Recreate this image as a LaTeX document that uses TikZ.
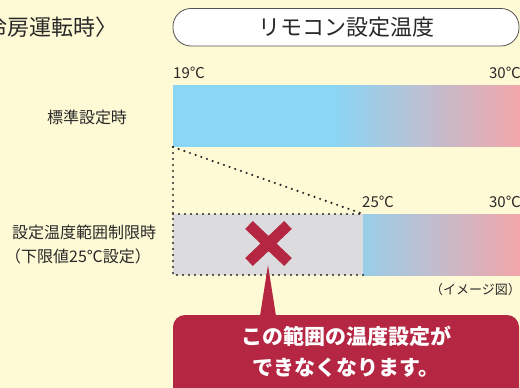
\documentclass[tikz,border=0pt]{standalone}
\usepackage{fontspec}
\setmainfont{Noto Sans CJK JP}
\definecolor{cream}{RGB}{255,250,214}
\definecolor{barblue}{RGB}{137,214,245}
\definecolor{barpink}{RGB}{242,166,170}
\definecolor{boxgrey}{RGB}{220,220,222}
\definecolor{crimson}{RGB}{180,38,66}
\definecolor{textgrey}{RGB}{40,40,40}
% blue part of the full bar, then blue to pink
\pgfdeclarehorizontalshading{fullbar}{100bp}{color(0bp)=(barblue); color(25bp)=(barblue);
  color(48bp)=(barblue); color(75bp)=(barpink); color(100bp)=(barpink)}
\tikzset{
  lbl/.style={text=textgrey, inner sep=0pt, font=\fontsize{16}{20}\selectfont},
  deg/.style={text=textgrey, inner sep=0pt, font=\fontsize{15}{18}\selectfont},
  big/.style={text=textgrey, inner sep=0pt, font=\fontsize{22}{26}\selectfont},
  dots/.style={line width=2.4pt, line cap=round, dash pattern=on 0pt off 6pt, textgrey}
}
\begin{document}
\begin{tikzpicture}[x=1pt,y=-1pt]
\useasboundingbox (0,0) rectangle (520,388);
\fill[cream] (0,0) rectangle (520,388);
% heading
\node [big, anchor=east] (mode) at (118,27) {〈冷房運転時〉};
\draw[fill=white, draw=textgrey!80, line width=0.8pt, rounded corners=18] (173,8.5) rectangle (519,46);
\node [big] (remo) at (346,27) {リモコン設定温度};
% standard bar
\node [deg, anchor=west] (lo) at (173,73) {19℃};
\node [deg, anchor=east] (hi) at (521,73) {30℃};
\shade[shading=fullbar] (173,85) rectangle (520,146);
\node [lbl] (std) at (87,117) {標準設定時};
% limited bar
\fill[boxgrey] (173,214) rectangle (363,275);
\shade[left color=barpink!16!barblue, right color=barpink] (363,214) rectangle (520,275);
\draw[dots] (173,147) -- (173,275) -- (363,275);
\draw[dots] (173,214) -- (363,214);
\draw[dots] (173,147) -- (363,214);
\node [deg, anchor=west] (mid) at (362,202) {25℃};
\node [deg, anchor=east] (hi2) at (521,202) {30℃};
\node [lbl, anchor=west, align=left] (lim) at (5,245) {\hspace*{7pt}設定温度範囲制限時\\[4pt]（下限値25℃設定）};
% cross
\draw[crimson, line width=11pt] (249,225) -- (288,262) (249,262) -- (288,225);
\node [text=textgrey, inner sep=0pt, font=\fontsize{13}{16}\selectfont, anchor=east] (img) at (521,290) {（イメージ図）};
% callout
\coordinate (tip) at (268,265);
\fill[crimson, rounded corners=12] (173,315) rectangle (519,400);
\fill[crimson] (tip) -- (276,316) -- (260,316) -- cycle;
\node [text=white, align=center, inner sep=0pt, font=\fontsize{21}{31}\selectfont\bfseries] (msg) at (346,352) {この範囲の温度設定が\\できなくなります。};
\end{tikzpicture}
\end{document}
